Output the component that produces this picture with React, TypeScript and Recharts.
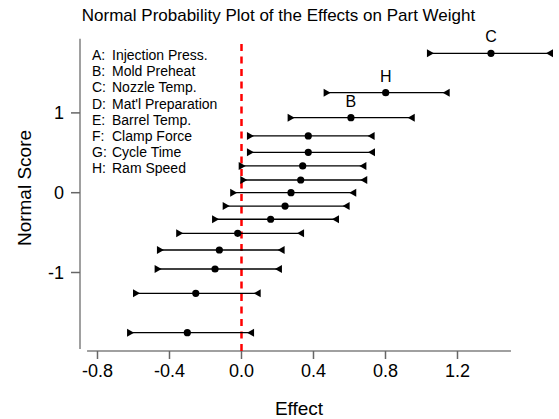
import React from 'react';
import { ScatterChart, Scatter, XAxis, YAxis, ReferenceLine } from 'recharts';

// normal scores (y) and effect estimates with interval ends
const scores = [1.747, 1.253, 0.94, 0.711, 0.506, 0.335, 0.159, 0, -0.167, -0.333, -0.509, -0.718, -0.956, -1.261, -1.754];
const effects = [1.386, 0.801, 0.608, 0.371, 0.371, 0.34, 0.329, 0.275, 0.242, 0.162, -0.021, -0.123, -0.147, -0.254, -0.301];
const lower = [1.047, 0.473, 0.273, 0.047, 0.047, 0.001, 0.01, -0.046, -0.088, -0.147, -0.346, -0.453, -0.466, -0.586, -0.619];
const upper = [1.714, 1.14, 0.946, 0.723, 0.725, 0.677, 0.682, 0.621, 0.584, 0.525, 0.331, 0.223, 0.208, 0.09, 0.053];
const tags = ['C', 'H', 'B', '', '', '', '', '', '', '', '', '', '', '', ''];

const xTicks = [-0.8, -0.4, 0, 0.4, 0.8, 1.2];
const yTicks = [-1, 0, 1];

const factorKeys = ['A:', 'B:', 'C:', 'D:', 'E:', 'F:', 'G:', 'H:'];
const factorNames = ['Injection Press.', 'Mold Preheat', 'Nozzle Temp.', "Mat'l Preparation", 'Barrel Temp.', 'Clamp Force', 'Cycle Time', 'Ram Speed'];

const dots = scores.map((s, i) => ({ x: effects[i], y: s, tag: tags[i] }));
const lows = scores.map((s, i) => ({ x: lower[i], y: s }));
const highs = scores.map((s, i) => ({ x: upper[i], y: s }));

const font = '"Liberation Sans", Arial, sans-serif';

const Dot = (props: any) => {
  const { cx, cy, payload } = props;
  return (
    <g>
      <circle cx={cx} cy={cy} r={3.6} fill="#000" />
      {payload.tag ? (
        <text x={cx} y={cy - 11} textAnchor="middle" fontSize={16} fontFamily={font} fill="#000">
          {payload.tag}
        </text>
      ) : null}
    </g>
  );
};

const RightTri = (props: any) => {
  const { cx, cy } = props;
  return <polygon points={`${cx - 3},${cy - 4} ${cx - 3},${cy + 4} ${cx + 4},${cy}`} fill="#000" />;
};

const LeftTri = (props: any) => {
  const { cx, cy } = props;
  return <polygon points={`${cx + 3},${cy - 4} ${cx + 3},${cy + 4} ${cx - 4},${cy}`} fill="#000" />;
};

export default function App() {
  return (
    <div style={{ position: 'absolute', left: 0, top: 0, width: 559, height: 419, background: '#fff', fontFamily: font }}>
      <div style={{ position: 'absolute', left: 0, width: 557, top: 5, textAlign: 'center', fontSize: 17, color: '#000', lineHeight: '22px' }}>
        Normal Probability Plot of the Effects on Part Weight
      </div>
      <ScatterChart width={559} height={419} margin={{ top: 40, right: 0, bottom: 28, left: 20 }}>
        <XAxis
          type="number"
          dataKey="x"
          domain={[-0.8972, 1.7639]}
          ticks={xTicks}
          tickFormatter={(v: number) => v.toFixed(1)}
          axisLine={false}
          tickLine={{ stroke: '#666', strokeWidth: 1.5 }}
          tickSize={8}
          tickMargin={5}
          height={40}
          tick={{ fill: '#000', fontSize: 18, fontFamily: font }}
        />
        <YAxis
          type="number"
          dataKey="y"
          domain={[-1.9837, 1.9135]}
          ticks={yTicks}
          axisLine={false}
          tickLine={{ stroke: '#666', strokeWidth: 1.5 }}
          tickSize={9}
          tickMargin={7}
          width={60}
          tick={{ fill: '#000', fontSize: 18, fontFamily: font }}
        />
        <ReferenceLine
          segment={[{ x: -0.8972, y: -1.96 }, { x: -0.8972, y: 1.93 }]}
          stroke="#a0a0a0"
          strokeWidth={2}
          ifOverflow="visible"
        />
        <ReferenceLine
          segment={[{ x: -0.858, y: -1.9837 }, { x: 1.497, y: -1.9837 }]}
          stroke="#a0a0a0"
          strokeWidth={2}
          ifOverflow="visible"
        />
        <ReferenceLine x={0} stroke="#ff0000" strokeWidth={2.5} strokeDasharray="7 5.5" />
        {scores.map((s, i) => (
          <ReferenceLine
            key={i}
            segment={[{ x: lower[i], y: s }, { x: upper[i], y: s }]}
            stroke="#000"
            strokeWidth={1.3}
            ifOverflow="visible"
          />
        ))}
        <Scatter data={dots} shape={Dot} isAnimationActive={false} />
        <Scatter data={lows} shape={RightTri} isAnimationActive={false} />
        <Scatter data={highs} shape={LeftTri} isAnimationActive={false} />
      </ScatterChart>
      <div
        style={{
          position: 'absolute',
          left: 25,
          top: 188,
          transform: 'translate(-50%, -50%) rotate(-90deg)',
          fontSize: 19,
          whiteSpace: 'nowrap',
          color: '#000',
        }}
      >
        Normal Score
      </div>
      <div style={{ position: 'absolute', left: 0, width: 598, top: 397, textAlign: 'center', fontSize: 19, color: '#000', lineHeight: '24px' }}>
        Effect
      </div>
      {factorKeys.map((k, i) => (
        <div
          key={k}
          style={{ position: 'absolute', left: 92, top: 47 + i * 16.2, fontSize: 14, lineHeight: '16px', color: '#000', whiteSpace: 'nowrap' }}
        >
          <span style={{ display: 'inline-block', width: 20 }}>{k}</span>
          {factorNames[i]}
        </div>
      ))}
    </div>
  );
}
